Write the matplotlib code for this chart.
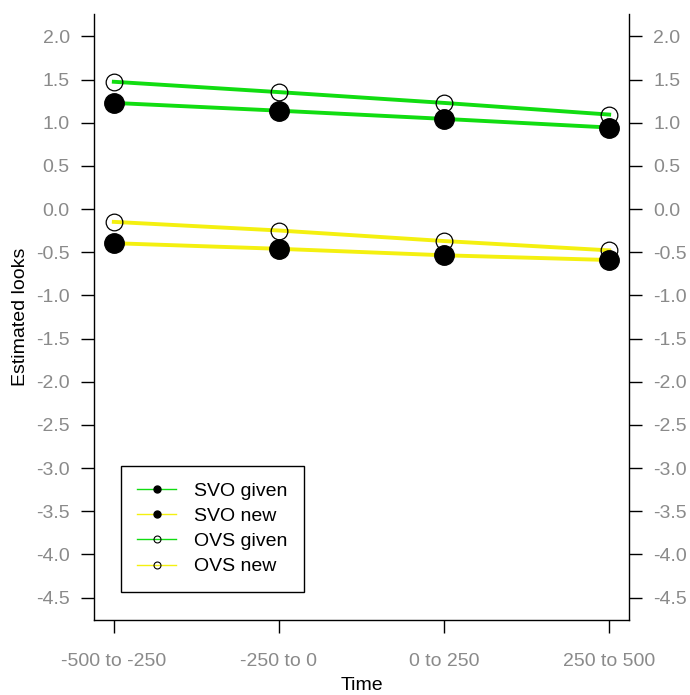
import numpy as np
import matplotlib
matplotlib.use('Agg')
import matplotlib.pyplot as plt
from matplotlib.lines import Line2D

plt.rcParams['font.family'] = ['Liberation Sans', 'DejaVu Sans']

# data
time_labels = ['-500 to -250', '-250 to 0', '0 to 250', '250 to 500']
svo_given = [1.23, 1.14, 1.045, 0.945]
svo_new = [-0.395, -0.46, -0.535, -0.59]
ovs_given = [1.475, 1.355, 1.23, 1.095]
ovs_new = [-0.148, -0.248, -0.37, -0.478]
y_ticks = np.arange(-4.5, 2.01, 0.5)

green = '#11DD11'
yellow = '#F4F010'
grey = '#8a8a8a'

x = np.arange(1, len(time_labels) + 1)

fig = plt.figure(figsize=(6.9, 6.95), dpi=100)
ax = fig.add_axes([94/690, 75/695, 535/690, 606/695])

# lines
ax.plot(x, ovs_given, color=green, lw=2.8, zorder=2)
ax.plot(x, svo_given, color=green, lw=2.8, zorder=2)
ax.plot(x, ovs_new, color=yellow, lw=2.8, zorder=2)
ax.plot(x, svo_new, color=yellow, lw=2.8, zorder=2)

# points
for ys in (svo_given, svo_new):
    ax.plot(x, ys, 'o', color='black', ms=14, zorder=3)
for ys in (ovs_given, ovs_new):
    ax.plot(x, ys, 'o', mfc='none', mec='black', mew=0.9, ms=12, zorder=4)

ax.set_xlim(0.88, 4.12)
ax.set_ylim(-4.76, 2.26)
ax.set_xticks(x)
ax.set_xticklabels(time_labels)
ax.set_yticks(y_ticks)
ax.set_yticklabels(['%.1f' % v for v in y_ticks])

ax.spines['top'].set_visible(False)
for s in ('left', 'right', 'bottom'):
    ax.spines[s].set_linewidth(1.0)
ax.tick_params(axis='y', which='both', left=True, right=True,
               labelleft=True, labelright=True, length=9.5, width=1.0,
               pad=8, labelsize=14, labelcolor=grey, direction='out')
ax.tick_params(axis='x', length=9.5, width=1.0, pad=14, labelsize=14,
               labelcolor=grey, direction='out')

ax.set_xlabel('Time', fontsize=14, va='center')
ax.xaxis.set_label_coords(0.5, -(686 - 620) / 606)
ax.set_ylabel('Estimated looks', fontsize=14, va='center')
ax.yaxis.set_label_coords(-(94 - 21) / 535, 0.5)

handles = [
    Line2D([], [], color=green, lw=1, marker='o', mfc='black', mec='black', ms=5),
    Line2D([], [], color=yellow, lw=1, marker='o', mfc='black', mec='black', ms=5),
    Line2D([], [], color=green, lw=1, marker='o', mfc='none', mec='black', ms=5, mew=0.8),
    Line2D([], [], color=yellow, lw=1, marker='o', mfc='none', mec='black', ms=5, mew=0.8),
]
labels = ['SVO given', 'SVO new', 'OVS given', 'OVS new']
leg = ax.legend(handles, labels, loc='upper left',
                bbox_to_anchor=(120.7/690, 1 - 465.7/695),
                bbox_transform=fig.transFigure, borderaxespad=0,
                fancybox=False, edgecolor='black', framealpha=1,
                fontsize=14, handlelength=2.0, handletextpad=0.9,
                labelspacing=0.39, borderpad=0.85)
leg.get_frame().set_linewidth(1.0)

fig.savefig('out.png', dpi=100)
